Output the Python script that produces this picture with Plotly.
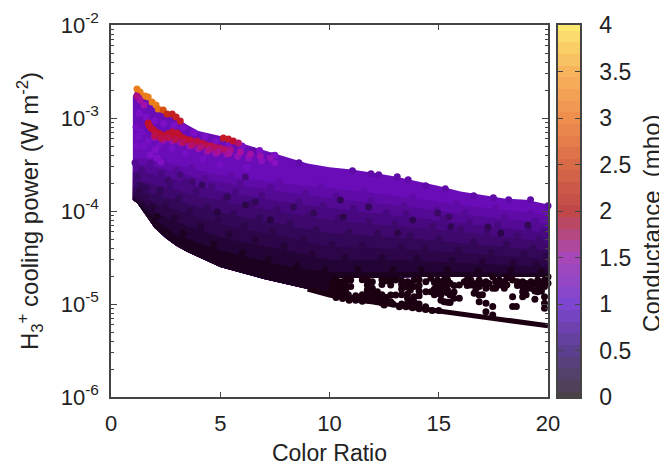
import plotly.graph_objects as go
from plotly.colors import sample_colorscale

# ---------- data (log10 of cooling power, W m-2) ----------
edge_ratio = [1, 1.2, 1.5, 2, 2.5, 3, 3.5, 4, 5, 6, 7, 8, 9, 10, 11, 12, 13, 14, 15, 16, 17, 18, 19, 20]
top_log = [-2.763, -2.677, -2.731, -2.849, -2.925, -3.0, -3.075, -3.14, -3.194, -3.275, -3.345, -3.42,
           -3.49, -3.53, -3.555, -3.59, -3.63, -3.68, -3.73, -3.79, -3.83, -3.865, -3.88, -3.93]
bottom_log = [-3.882, -3.914, -4.022, -4.183, -4.29, -4.376, -4.441, -4.495, -4.602, -4.667, -4.731, -4.785,
              -4.839, -4.903, -4.946, -4.978, -5.011, -5.043, -5.075, -5.108, -5.14, -5.172, -5.204, -5.235]

floor_ratio = [1, 1.2, 1.5, 2, 2.5, 3, 3.5, 4, 5, 6, 7, 8, 9, 10, 10.3, 12, 14, 16, 18, 20]
floor_log = [-3.882, -3.914, -4.022, -4.183, -4.29, -4.376, -4.441, -4.495, -4.602, -4.667, -4.731, -4.785,
             -4.839, -4.903, -4.72, -4.72, -4.71, -4.71, -4.71, -4.71]

bump_ratio = [6.5, 7.4, 8.6, 11.05, 11.9, 12.25, 13.1, 13.6, 14.4, 15.3, 16.6, 17.5, 18.2, 19.2, 20]
bump_log = [-3.353, -3.406, -3.482, -3.568, -3.6, -3.611, -3.632, -3.664, -3.729, -3.761, -3.836, -3.858, -3.879, -3.879, -3.944]

band_ratio = [1, 1.5, 2, 3, 4, 5, 6, 8, 10, 12, 14, 16, 18, 20]
band_conductance = [0.6, 0.5, 0.44, 0.38, 0.32, 0.26, 0.2, 0.14, 0.08]
band_50 = [-3.452, -3.43, -3.452, -3.505, -3.559, -3.613, -3.645, -3.71, -3.753, -3.806, -3.871, -3.935, -3.989, -4.043]
band_44 = [-3.505, -3.505, -3.527, -3.581, -3.645, -3.688, -3.731, -3.796, -3.86, -3.914, -3.968, -4.032, -4.086, -4.14]
band_38 = [-3.581, -3.581, -3.613, -3.667, -3.731, -3.785, -3.828, -3.903, -3.968, -4.022, -4.075, -4.129, -4.183, -4.237]
band_32 = [-3.667, -3.688, -3.72, -3.774, -3.839, -3.892, -3.935, -4.022, -4.097, -4.14, -4.183, -4.226, -4.28, -4.333]
band_26 = [-3.742, -3.774, -3.828, -3.882, -3.957, -4.011, -4.065, -4.151, -4.237, -4.269, -4.301, -4.344, -4.387, -4.43]
band_20 = [-3.796, -3.849, -3.914, -3.989, -4.075, -4.14, -4.194, -4.28, -4.387, -4.398, -4.419, -4.452, -4.484, -4.516]
band_14 = [-3.839, -3.914, -4.011, -4.118, -4.204, -4.28, -4.333, -4.419, -4.527, -4.527, -4.538, -4.559, -4.581, -4.602]
band_08 = [-3.86, -3.968, -4.097, -4.258, -4.344, -4.419, -4.484, -4.591, -4.656, -4.656, -4.656, -4.656, -4.667, -4.667]
inner_bands = [band_50, band_44, band_38, band_32, band_26, band_20, band_14, band_08]

# mottled points inside the cloud
mottle_ratio = [2.4, 3.7, 5.5, 7.7, 9.6, 11.6, 13.8, 15.8, 17.6, 19.2,
                1.1, 1.8, 3.0, 4.3, 5.9, 7.3, 8.9, 10.3, 11.9, 13.4, 14.9, 16.2, 18.0, 19.4,
                1.4, 2.3, 3.4, 4.6, 5.7, 6.9, 8.6, 9.7, 11.1, 12.6, 13.5, 15.2, 16.4, 17.7, 19.1, 19.8,
                1.2, 2.7, 3.9, 5.2, 6.4, 7.6, 9.0, 10.4, 11.8, 13.0, 14.7, 16.0, 17.2, 18.6, 19.6,
                1.6, 2.2, 3.1, 4.4, 5.6, 6.8, 8.2, 9.4, 10.9, 12.2, 13.7, 15.0, 16.6, 18.1, 19.3,
                1.3, 2.5, 3.6, 4.9, 6.1, 7.4, 8.8, 10.1, 11.5, 13.3, 14.4, 15.9, 17.4, 18.9, 19.9,
                1.9, 2.9, 4.1, 5.4, 6.6, 7.9, 9.2, 10.7, 12.4, 14.0, 15.6, 17.0, 18.4, 19.5,
                2.1, 3.3, 4.7, 6.0, 7.2, 8.5, 9.8, 11.3, 12.9, 14.2, 15.4, 16.8, 18.3, 19.7]
mottle_log = [-3.47, -3.53, -3.62, -3.69, -3.74, -3.79, -3.85, -3.92, -3.97, -4.02,
              -3.48, -3.49, -3.56, -3.65, -3.7, -3.75, -3.81, -3.84, -3.89, -3.94, -3.99, -4.02, -4.07, -4.11,
              -3.56, -3.6, -3.68, -3.74, -3.79, -3.83, -3.9, -3.94, -3.97, -4.02, -4.03, -4.08, -4.12, -4.15, -4.19, -4.22,
              -3.63, -3.72, -3.79, -3.87, -3.92, -3.98, -4.05, -4.08, -4.11, -4.14, -4.17, -4.2, -4.24, -4.27, -4.31,
              -3.75, -3.82, -3.86, -3.96, -4.03, -4.07, -4.13, -4.2, -4.23, -4.24, -4.27, -4.3, -4.33, -4.36, -4.4,
              -3.79, -3.93, -4.0, -4.1, -4.16, -4.22, -4.3, -4.36, -4.37, -4.39, -4.4, -4.42, -4.45, -4.47, -4.49,
              -3.96, -4.07, -4.17, -4.25, -4.31, -4.38, -4.46, -4.5, -4.5, -4.51, -4.53, -4.55, -4.56, -4.58,
              -4.06, -4.24, -4.36, -4.45, -4.52, -4.59, -4.64, -4.63, -4.63, -4.63, -4.63, -4.64, -4.64, -4.65]
mottle_conductance = [0.5] * 10 + [0.44] * 14 + [0.38] * 16 + [0.32] * 15 + [0.26] * 15 + [0.2] * 15 + [0.14] * 14 + [0.08] * 14

# lighter violet region near the top left, under the hot points
violet_ratio = [1.3, 1.6, 2, 2.4, 2.9, 3.3, 3.8, 4.3, 4.8, 5.4, 6, 6.8, 7.5, 1.15, 1.4, 1.2, 1.5, 1.25, 1.7, 2.2, 2.8, 3.4, 4.2, 5, 6.2]
violet_log = [-2.95, -2.99, -3.03, -3.06, -3.08, -3.1, -3.16, -3.2, -3.25, -3.29, -3.3, -3.35, -3.4, -3.1, -3.15, -3.3, -3.3, -3.2, -3.25, -3.3, -3.33, -3.38, -3.44, -3.5, -3.53]
violet_conductance = [0.8] * 13 + [0.72] * 12

hot_ratio = [1.19, 1.33, 1.56, 1.7, 1.88, 2.06, 2.16, 2.39, 2.57, 2.8, 2.98, 3.17, 1.19, 1.33, 1.51,
             2.0, 2.4, 2.8, 3.2, 3.6, 4.0, 4.4, 4.8, 5.3, 5.8, 6.3, 6.9, 7.5,
             5.14, 5.37, 5.6, 5.83,
             1.7, 1.83, 2.02, 2.25, 2.48, 2.8, 3.03, 3.3, 3.62, 3.94, 4.27, 4.59, 5.0, 5.46, 5.92, 6.38, 6.83, 7.29,
             1.75, 1.95, 2.15, 2.35, 2.6, 2.9, 3.15, 3.45, 3.8, 4.1, 4.45, 4.8, 5.2,
             2.0, 2.3, 2.6, 2.95, 3.3, 3.7, 4.1, 4.5, 4.9, 5.4,
             1.79, 2.11, 2.02, 2.29]
hot_log = [-2.688, -2.72, -2.763, -2.774, -2.828, -2.86, -2.903, -2.914, -2.957, -2.957, -2.989, -3.032, -2.763, -2.806, -2.86,
           -3.21, -3.24, -3.25, -3.27, -3.3, -3.33, -3.36, -3.38, -3.39, -3.41, -3.43, -3.46, -3.48,
           -3.215, -3.226, -3.247, -3.269,
           -3.054, -3.108, -3.151, -3.172, -3.194, -3.151, -3.161, -3.215, -3.237, -3.247, -3.28, -3.301, -3.323, -3.344, -3.366, -3.387, -3.409, -3.43,
           -3.08, -3.13, -3.16, -3.19, -3.17, -3.2, -3.19, -3.23, -3.26, -3.27, -3.3, -3.32, -3.34,
           -3.19, -3.22, -3.21, -3.23, -3.26, -3.29, -3.31, -3.34, -3.36, -3.38,
           -3.398, -3.43, -3.344, -3.473]
hot_conductance = [2.9, 2.9, 2.9, 2.9, 2.9, 2.9, 2.8, 2.5, 2.1, 2.0, 2.0, 1.9, 1.5, 1.4, 1.3,
                   1.2, 1.2, 1.2, 1.2, 1.2, 1.2, 1.2, 1.2, 1.2, 1.1, 1.05, 1.0, 0.95,
                   1.9, 1.9, 1.8, 1.6,
                   1.8, 1.8, 1.8, 1.8, 1.8, 1.8, 1.8, 1.8, 1.8, 1.7, 1.7, 1.7, 1.6, 1.5, 1.4, 1.3, 1.2, 1.1,
                   1.8, 1.8, 1.8, 1.8, 1.8, 1.8, 1.8, 1.8, 1.75, 1.75, 1.7, 1.65, 1.6,
                   1.7, 1.7, 1.7, 1.7, 1.65, 1.6, 1.55, 1.5, 1.45, 1.4,
                   0.85, 0.85, 0.85, 0.85]

dim_ratio = [1.33, 1.56, 2.61, 3.72, 4.17, 5.32, 6.15, 6.61, 3.17, 2.25, 4.86, 6.15, 7.29, 8.35, 9.27, 10.5, 13.81, 15.55,
             10.64, 11.79, 17.25, 19.08, 13.12, 14.95, 17.84, 15.46]
dim_log = [-3.72, -3.849, -3.667, -3.688, -3.72, -3.849, -3.634, -3.903, -3.613, -3.774, -4.011, -3.935, -4.097, -3.957, -4.022,
           -3.882, -4.097, -4.172, -4.065, -3.957, -4.172, -4.151, -4.237, -4.022, -4.237, -4.065]
dim_conductance = [0.26, 0.22, 0.32, 0.32, 0.28, 0.26, 0.36, 0.26, 0.36, 0.26, 0.18, 0.2, 0.18, 0.26, 0.26, 0.26, 0.24, 0.24,
                   0.22, 0.26, 0.24, 0.26, 0.2, 0.3, 0.2, 0.3]

speck_ratio = [10.13, 10.13, 10.13, 10.43, 10.43, 10.43, 10.74, 10.74, 10.74, 10.74, 10.97, 10.97, 10.97,
               11.73, 11.73, 11.73, 11.73, 11.73, 11.96, 11.96, 11.96, 11.96, 12.19, 12.19, 12.19,
               12.8, 12.8, 12.8, 12.8, 13.03, 13.03, 13.57, 13.57, 13.57, 13.57, 13.57,
               13.87, 13.87, 13.87, 13.87, 13.87, 14.41, 14.41, 14.64, 14.64, 14.94, 14.94, 14.94,
               15.25, 15.25, 15.25, 15.25, 15.52, 15.52, 15.52, 15.94, 15.94, 15.7, 16.17, 16.47, 16.47, 16.62,
               16.85, 16.85, 16.85, 16.85, 17.16, 17.16, 17.16, 17.16, 17.47, 17.47, 17.47, 17.47,
               17.77, 17.77, 18.12, 18.12, 18.38, 18.38, 18.38, 18.55, 18.84, 18.84, 18.84, 18.84,
               19.22, 19.22, 19.53, 19.53, 19.53, 19.84, 19.84, 19.84, 19.84, 19.84, 20.0, 20.0,
               10.28, 10.28, 10.28, 10.28, 10.6, 10.6, 10.6, 10.6, 10.86, 10.86, 11.2, 11.2, 11.5, 11.5, 11.5,
               12.4, 12.4, 12.4, 12.4, 12.4, 12.6, 12.6, 12.6, 13.3, 13.3, 13.3, 13.3, 13.3,
               13.7, 13.7, 13.7, 13.7, 14.1, 14.1, 14.1, 14.1, 14.8, 14.8, 14.8, 15.1, 15.1, 15.1, 15.1,
               15.4, 15.4, 15.4, 15.4, 15.4, 15.7, 15.7, 16.3, 16.3, 16.7, 16.7, 17.0, 17.0, 17.3,
               17.6, 17.6, 18.0, 18.0, 18.6, 18.6, 19.0, 19.0, 19.0, 19.4, 19.4, 19.4, 19.7, 19.7,
               10.3, 10.6, 10.9, 11.2, 11.5, 12.0, 12.3, 12.5, 12.9, 13.2, 13.5, 13.8, 14.1, 14.1, 14.4, 14.4, 14.7, 15.0]
speck_log = [-4.76, -4.813, -4.867, -4.76, -4.821, -4.878, -4.742, -4.795, -4.849, -4.914, -4.742, -4.813, -4.939,
             -4.742, -4.795, -4.849, -4.903, -4.957, -4.76, -4.831, -4.892, -4.957, -4.867, -4.921, -4.975,
             -4.742, -4.795, -4.903, -4.975, -4.742, -4.903, -4.76, -4.821, -4.892, -4.939, -4.993,
             -4.742, -4.813, -4.921, -4.975, -5.011, -4.76, -4.867, -4.724, -4.867, -4.742, -4.813, -4.885,
             -4.742, -4.813, -4.867, -4.975, -4.778, -4.903, -4.985, -4.795, -4.939, -4.939, -4.76, -4.742, -4.795, -4.885,
             -4.742, -4.813, -4.903, -4.975, -4.76, -4.831, -4.993, -5.082, -4.706, -4.831, -5.028, -5.118,
             -4.742, -4.795, -4.724, -4.795, -4.742, -4.921, -5.028, -5.028, -4.76, -4.813, -4.867, -4.921,
             -4.76, -4.831, -4.742, -4.813, -4.867, -4.742, -4.813, -4.921, -4.993, -5.046, -4.706, -4.778,
             -4.74, -4.79, -4.84, -4.89, -4.76, -4.81, -4.86, -4.9, -4.9, -4.93, -4.91, -4.94, -4.9, -4.94, -4.74,
             -4.74, -4.79, -4.9, -4.95, -4.99, -4.75, -4.93, -4.98, -4.75, -4.79, -4.84, -4.9, -5.0,
             -4.78, -4.85, -4.96, -5.02, -4.74, -4.8, -4.86, -4.91, -4.77, -4.84, -4.9, -4.77, -4.84, -4.9, -4.96,
             -4.74, -4.79, -4.85, -4.88, -4.98, -4.8, -4.87, -4.8, -4.74, -4.78, -4.84, -4.78, -4.9, -4.78,
             -4.76, -4.83, -4.76, -4.83, -4.76, -4.8, -4.78, -4.84, -4.9, -4.78, -4.86, -4.95, -4.78, -4.86,
             -4.93, -4.94, -4.96, -4.96, -4.97, -4.94, -4.96, -5.01, -5.0, -5.03, -5.03, -5.04, -5.0, -5.05, -5.03, -5.06, -5.07, -5.07]

x_ticks = [0, 5, 10, 15, 20]
y_tick_values = [1e-6, 1e-5, 1e-4, 1e-3, 1e-2]
y_tick_labels = ["10<sup>-6</sup>", "10<sup>-5</sup>", "10<sup>-4</sup>", "10<sup>-3</sup>", "10<sup>-2</sup>"]
cbar_ticks = [0, 0.5, 1, 1.5, 2, 2.5, 3, 3.5, 4]
cbar_labels = ["0", "0.5", "1", "1.5", "2", "2.5", "3", "3.5", "4"]
cbar_levels = [0, 0.125, 0.25, 0.375, 0.5, 0.625, 0.75, 0.875, 1, 1.125, 1.25, 1.375, 1.5, 1.625, 1.75, 1.875, 2,
               2.125, 2.25, 2.375, 2.5, 2.625, 2.75, 2.875, 3, 3.125, 3.25, 3.375, 3.5, 3.625, 3.75, 3.875, 4]

# ---------- colours ----------
point_scale = [[0, "#1c0012"], [0.02, "#1c0220"], [0.035, "#240436"], [0.05, "#2c0648"], [0.065, "#340858"],
               [0.08, "#3e086c"], [0.095, "#480980"], [0.11, "#540a94"], [0.125, "#600ba8"], [0.15, "#6a0cb8"],
               [0.19, "#7a10c8"], [0.25, "#8a10c0"], [0.35, "#a810a0"], [0.45, "#c01030"],
               [0.55, "#c83010"], [0.67, "#e06010"], [0.75, "#f08a20"], [0.87, "#f8b850"], [1, "#fce860"]]
bar_scale = [[0, "#4a4248"], [0.125, "#5c3f8e"], [0.25, "#7d45d0"], [0.375, "#a848b8"], [0.5, "#c04848"],
             [0.625, "#d86a48"], [0.75, "#ef8f4e"], [0.875, "#f7b45c"], [1, "#fbe870"]]
AXIS = "#444444"
TEXT = "#222222"


def power(values):
    return [10 ** v for v in values]


def conductance_colour(c):
    return sample_colorscale(point_scale, c / 4)[0]


fig = go.Figure()

# filled envelope of the cloud, then darker levels towards the floor
outlines = [(edge_ratio, top_log)] + [(band_ratio, b) for b in inner_bands]
for (bx, by), cond in zip(outlines, band_conductance):
    fig.add_trace(go.Scatter(
        x=list(bx) + floor_ratio[::-1],
        y=power(by) + power(floor_log)[::-1],
        mode="lines", fill="toself", fillcolor=conductance_colour(cond),
        line=dict(width=0), hoverinfo="skip", showlegend=False))

# bottom edge of the cloud
fig.add_trace(go.Scatter(x=edge_ratio[12:], y=power(bottom_log[12:]), mode="lines",
                         line=dict(color=conductance_colour(0), width=5),
                         hoverinfo="skip", showlegend=False))

# individual points
all_x = bump_ratio + speck_ratio + mottle_ratio + dim_ratio + violet_ratio + hot_ratio
all_log = bump_log + speck_log + mottle_log + dim_log + violet_log + hot_log
all_c = [0.5] * len(bump_ratio) + [0.0] * len(speck_ratio) + mottle_conductance + dim_conductance + violet_conductance + hot_conductance
fig.add_trace(go.Scatter(
    x=all_x, y=power(all_log), mode="markers",
    marker=dict(size=7, color=all_c, colorscale=point_scale, cmin=0, cmax=4, showscale=False, line=dict(width=0)),
    showlegend=False, cliponaxis=False))

# colour bar panel
fig.add_trace(go.Heatmap(
    x=[0, 1], y=cbar_levels, z=[[v, v] for v in cbar_levels],
    colorscale=bar_scale, zmin=0, zmax=4, showscale=False, xaxis="x2", yaxis="y2", hoverinfo="skip"))

font = dict(family="Liberation Sans, Arial, sans-serif", size=22, color=TEXT)
fig.update_layout(
    width=659, height=458, autosize=False,
    margin=dict(l=103, r=87, t=17, b=69),
    paper_bgcolor="white", plot_bgcolor="white", showlegend=False, font=font,
    xaxis=dict(domain=[0, 437 / 469], range=[0, 20], tickmode="array", tickvals=x_ticks, automargin=False,
               ticks="inside", ticklen=5, tickcolor=AXIS, showgrid=False, zeroline=False,
               showline=True, linecolor=AXIS, linewidth=1.5, mirror="ticks", ticklabelstandoff=6,
               title=dict(text="Color Ratio", font=dict(size=23))),
    yaxis=dict(type="log", range=[-6, -2], tickmode="array", tickvals=y_tick_values, ticktext=y_tick_labels, automargin=False,
               ticks="inside", ticklen=6, tickcolor=AXIS, showgrid=False, zeroline=False,
               showline=True, linecolor=AXIS, linewidth=1.5, mirror="ticks", ticklabelstandoff=6,
               minor=dict(ticks="inside", ticklen=3, tickcolor=AXIS, dtick="D1", showgrid=False),
               title=dict(text="H<sub>3</sub><sup>+</sup> cooling power (W m<sup>-2</sup>)", font=dict(size=24))),
    xaxis2=dict(domain=[447 / 469, 1], range=[0, 1], anchor="y2", showticklabels=False, ticks="", automargin=False,
                showgrid=False, zeroline=False, showline=True, linecolor=AXIS, linewidth=1.5, mirror=True),
    yaxis2=dict(domain=[0, 1], range=[0, 4], anchor="x2", side="right", tickmode="array", automargin=False,
                tickvals=cbar_ticks, ticktext=cbar_labels, ticks="inside", ticklen=5, tickcolor=AXIS,
                showgrid=False, zeroline=False, showline=True, linecolor=AXIS, linewidth=1.5, mirror="ticks",
                ticklabelstandoff=13, tickfont=dict(size=23)),
    annotations=[dict(text="Conductance\u00a0\u00a0(mho)", xref="paper", yref="paper", x=1.1535, y=0.468,
                      xanchor="center", yanchor="middle", textangle=-90, showarrow=False, font=dict(size=24))],
)

fig.write_html("out.html")
